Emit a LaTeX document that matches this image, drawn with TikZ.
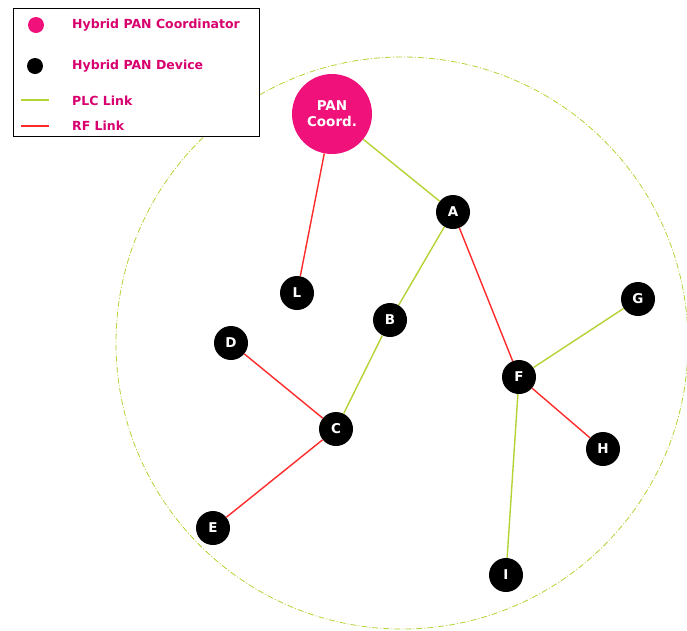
\documentclass[tikz,border=0pt]{standalone}
\usepackage{fontspec}
\setmainfont{DejaVu Sans}
\definecolor{hpink}{HTML}{F0127A}
\definecolor{tpink}{HTML}{D8006E}
\definecolor{plc}{HTML}{B4D334}
\definecolor{rf}{HTML}{FF2A2A}
\begin{document}
\begin{tikzpicture}[x=1pt,y=-1pt,
  dev/.style={circle,fill=black,minimum size=34pt,inner sep=0pt,text=white,font=\bfseries\fontsize{13.5}{14}\selectfont},
  coord/.style={circle,fill=hpink,minimum size=80pt,inner sep=0pt,text=white,align=center,font=\bfseries\fontsize{13.5}{16}\selectfont},
  plcl/.style={draw=plc,line width=1.4pt},
  rfl/.style={draw=rf,line width=1.4pt},
  leg/.style={anchor=west,text=tpink,font=\bfseries\fontsize{12.5}{13}\selectfont,inner sep=0pt}]
\useasboundingbox (0,0) rectangle (687,630);
\fill[white] (0,0) rectangle (687,630);
% range circle
\draw[plc,line width=0.8pt,dash pattern=on 6pt off 2pt on 1pt off 2pt] (402,343) circle (286);
% nodes
\node[coord] (P) at (332,114) {PAN\\Coord.};
\node[dev] (A) at (453,212) {A};
\node[dev] (L) at (297,293) {L};
\node[dev] (B) at (390,320) {B};
\node[dev] (D) at (231,343) {D};
\node[dev] (C) at (336,429) {C};
\node[dev] (E) at (213,528) {E};
\node[dev] (F) at (519,377) {F};
\node[dev] (G) at (638,299) {G};
\node[dev] (H) at (603,449) {H};
\node[dev] (I) at (506,575) {I};
% links
\draw[plcl] (P) -- (A);
\draw[rfl] (P) -- (L);
\draw[plcl] (A) -- (B);
\draw[rfl] (A) -- (F);
\draw[plcl] (B) -- (C);
\draw[rfl] (C) -- (D);
\draw[rfl] (C) -- (E);
\draw[plcl] (F) -- (G);
\draw[rfl] (F) -- (H);
\draw[plcl] (F) -- (I);
% legend
\node[draw=black,line width=0.8pt,fill=white,minimum width=246pt,minimum height=128pt,anchor=north west,inner sep=0pt] (legbox) at (13,8) {};
\node[circle,fill=hpink,minimum size=16pt,inner sep=0pt] (lp) at (36,25) {};
\node[circle,fill=black,minimum size=16pt,inner sep=0pt] (ld) at (35,66) {};
\coordinate (g1) at (21,100); \coordinate (g2) at (49,100);
\coordinate (r1) at (21,126); \coordinate (r2) at (49,126);
\draw[plcl] (g1) -- (g2);
\draw[rfl] (r1) -- (r2);
\node[leg] (t1) at (72,25) {Hybrid PAN Coordinator};
\node[leg] (t2) at (72,66) {Hybrid PAN Device};
\node[leg] (t3) at (72,101) {PLC Link};
\node[leg] (t4) at (72,126) {RF Link};
\end{tikzpicture}
\end{document}
